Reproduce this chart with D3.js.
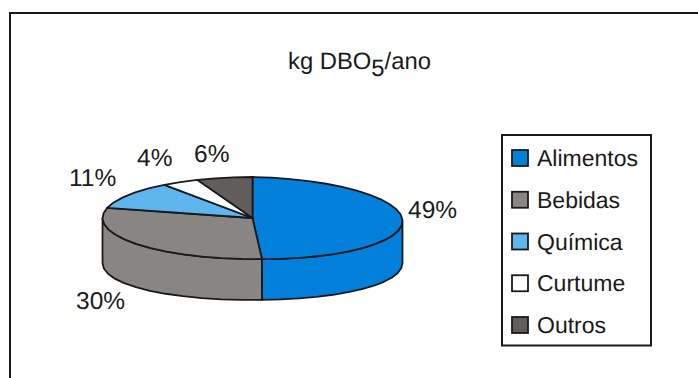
<!DOCTYPE html>
<html>
<head>
<meta charset="utf-8">
<script src="https://cdn.jsdelivr.net/npm/d3@7"></script>
<style>
html, body { margin: 0; padding: 0; background: #fff; overflow: hidden; }
text { font-family: "Liberation Sans", Arial, sans-serif; fill: #1a1a1a; text-rendering: geometricPrecision; }
</style>
</head>
<body>
<svg id="chart" width="698" height="378"></svg>
<script>
const categories = ["Alimentos", "Bebidas", "Química", "Curtume", "Outros"];
const shares = [49, 30, 11, 4, 6];
const colors = ["#0380DC", "#898583", "#5FB6EF", "#FFFFFF", "#625D5B"];
const percentLabels = ["49%", "30%", "11%", "4%", "6%"];

const svg = d3.select("#chart");
const ink = "#1a1a1a";

// Chart frame, running off the right and bottom of the page
svg.append("rect").attr("x", 10).attr("y", 13).attr("width", 720).attr("height", 400)
  .attr("fill", "#fff").attr("stroke", ink).attr("stroke-width", 2);

// Title with subscript
const title = svg.append("text").attr("x", 288).attr("y", 69).attr("font-size", 23.8);
title.append("tspan").text("kg DBO");
title.append("tspan").attr("dy", 7).text("5");
title.append("tspan").attr("dy", -7).text("/ano");

// Tilted pie: pie angles projected onto an ellipse, with a cylindrical wall below
const cx = 252.5, cy = 218, rx = 150, ry = 41, depth = 41;
const arcs = d3.pie().sort(null)(shares);
const projectTop = a => [
  cx + rx * Math.sin(a),
  cy - ry * Math.cos(a) + 3 * Math.max(0, Math.sin(a))
];
const projectBase = a => [
  cx + rx * Math.sin(a),
  cy - ry * Math.cos(a) + depth + 4 * Math.sin(a) * Math.sin(a)
];
const line = d3.line();
const facets = 48;
const stepsBetween = (a0, a1) => {
  const n = Math.max(1, Math.round((a1 - a0) / (2 * Math.PI / facets)));
  return d3.range(n + 1).map(i => a0 + (a1 - a0) * i / n);
};

// Wall pieces are the visible front half, clipped to the slice spans
const frontStart = Math.PI / 2, frontEnd = 3 * Math.PI / 2;
arcs.forEach((d, i) => {
  const a0 = Math.max(d.startAngle, frontStart), a1 = Math.min(d.endAngle, frontEnd);
  if (a1 <= a0) return;
  const steps = stepsBetween(a0, a1);
  const outline = steps.map(projectTop).concat(steps.slice().reverse().map(projectBase));
  svg.append("path").attr("d", line(outline) + "Z")
    .attr("fill", colors[i]).attr("stroke", ink).attr("stroke-width", 1.8)
    .attr("stroke-linejoin", "round");
});

// Top faces
arcs.forEach((d, i) => {
  const outline = [[cx, cy]].concat(stepsBetween(d.startAngle, d.endAngle).map(projectTop));
  svg.append("path").attr("d", line(outline) + "Z")
    .attr("fill", colors[i]).attr("stroke", ink).attr("stroke-width", 1.8)
    .attr("stroke-linejoin", "round");
});

// Percentage labels
const labelSpots = [[408, 218], [76, 309], [69, 186], [137, 166], [194, 162]];
svg.selectAll("text.pct").data(percentLabels).join("text").attr("class", "pct")
  .attr("x", (d, i) => labelSpots[i][0]).attr("y", (d, i) => labelSpots[i][1])
  .attr("font-size", 24.5).text(d => d);

// Legend
svg.append("rect").attr("x", 502).attr("y", 135).attr("width", 149).attr("height", 210.5)
  .attr("fill", "#fff").attr("stroke", ink).attr("stroke-width", 2);
const legendY = d3.scalePoint().domain(categories).range([158, 325]);
const rows = svg.selectAll("g.row").data(categories).join("g").attr("class", "row")
  .attr("transform", d => `translate(0,${legendY(d)})`);
rows.append("rect").attr("x", 512).attr("y", -8).attr("width", 16).attr("height", 16)
  .attr("fill", (d, i) => colors[i]).attr("stroke", ink).attr("stroke-width", 1.8);
rows.append("text").attr("x", 537).attr("y", 8).attr("font-size", 23).text(d => d);
</script>
</body>
</html>
